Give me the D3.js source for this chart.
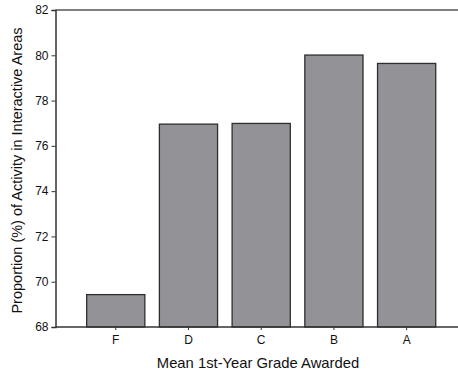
<!DOCTYPE html>
<html><head><meta charset="utf-8">
<script src="https://cdn.jsdelivr.net/npm/d3@7"></script>
<style>body{margin:0;background:#fff;} svg{display:block;}</style>
</head><body>
<svg id="chart" width="458" height="372"></svg>
<script>
const categories = ["F", "D", "C", "B", "A"];
const values = [69.43, 76.96, 76.99, 80.01, 79.64];
const yTicks = [68, 70, 72, 74, 76, 78, 80, 82];
const xTitle = "Mean 1st-Year Grade Awarded";
const yTitle = "Proportion (%) of Activity in Interactive Areas";

const svg = d3.select("#chart");
const mLeft = 55.5, mRight = 458, mTop = 10, mBottom = 327;

const x = d3.scaleBand().domain(categories).range([79.4, 443]).paddingInner(0.2).paddingOuter(0.1);
const y = d3.scaleLinear().domain([68, 82]).range([mBottom, mTop]);

// bars
svg.append("g").selectAll("rect").data(categories).join("rect")
  .attr("x", d => x(d))
  .attr("y", (d, i) => y(values[i]))
  .attr("width", x.bandwidth())
  .attr("height", (d, i) => y(68) - y(values[i]))
  .attr("fill", "#939397")
  .attr("stroke", "#2e2e2e")
  .attr("stroke-width", 1.3);

// top frame line
svg.append("line").attr("x1", mLeft).attr("x2", mRight).attr("y1", mTop).attr("y2", mTop)
  .attr("stroke", "#555").attr("stroke-width", 1.5);

// y axis
const yAxis = svg.append("g").attr("transform", `translate(${mLeft},0)`)
  .call(d3.axisLeft(y).tickValues(yTicks).tickSize(4).tickPadding(3).tickFormat(d3.format("d")));
yAxis.select(".domain").attr("stroke", "#333").attr("stroke-width", 1.5);
yAxis.selectAll(".tick line").attr("stroke", "#333");
yAxis.selectAll("text").attr("font-family", "Liberation Sans, Arial, sans-serif").attr("font-size", 12).attr("fill", "#111");

// x axis
const xAxis = svg.append("g").attr("transform", `translate(0,${mBottom})`)
  .call(d3.axisBottom(x).tickSize(3).tickPadding(5).tickSizeOuter(0));
xAxis.select(".domain").attr("d", `M${mLeft},0H${mRight}`).attr("stroke", "#333").attr("stroke-width", 1.5);
xAxis.selectAll(".tick line").attr("stroke", "#333");
xAxis.selectAll("text").attr("font-family", "Liberation Sans, Arial, sans-serif").attr("font-size", 12).attr("fill", "#111");

// titles
svg.append("text").attr("x", 258).attr("y", 368).attr("text-anchor", "middle")
  .attr("font-family", "Liberation Sans, Arial, sans-serif").attr("font-size", 14.8).attr("fill", "#111")
  .text(xTitle);
svg.append("text").attr("transform", `translate(22,${(mTop + mBottom) / 2 + 2}) rotate(-90)`).attr("text-anchor", "middle")
  .attr("font-family", "Liberation Sans, Arial, sans-serif").attr("font-size", 14.5).attr("fill", "#111")
  .text(yTitle);
</script>
</body></html>
